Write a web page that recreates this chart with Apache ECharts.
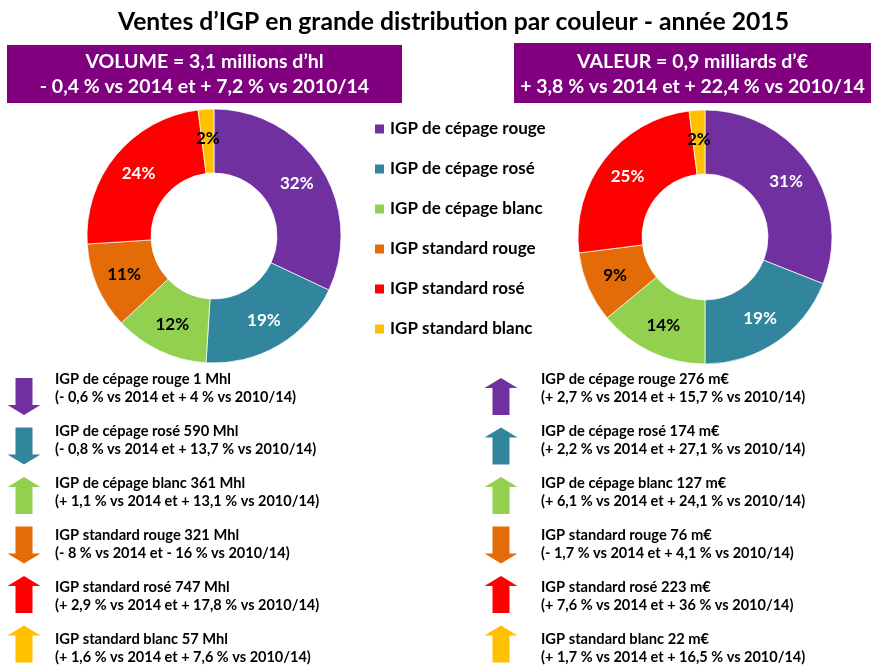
<!DOCTYPE html>
<html>
<head>
<meta charset="utf-8">
<script src="https://cdn.jsdelivr.net/npm/echarts@6/dist/echarts.min.js"></script>
<style>
html,body{margin:0;padding:0;background:#fff;}
#chart{width:871px;height:668px;}
</style>
</head>
<body>
<div id="chart"></div>
<script>
// ---- data ----
const title = 'Ventes d’IGP en grande distribution par couleur - année 2015';
const categories = ['IGP de cépage rouge', 'IGP de cépage rosé', 'IGP de cépage blanc', 'IGP standard rouge', 'IGP standard rosé', 'IGP standard blanc'];
const volumeShare = [32, 19, 12, 11, 24, 2];
const valueShare = [31, 19, 14, 9, 25, 2];
const volumeTotal = 'VOLUME = 3,1 millions d’hl';
const volumeTotalChange = [-0.4, 7.2];
const valueTotal = 'VALEUR = 0,9 milliards d’€';
const valueTotalChange = [3.8, 22.4];
const volumeAmounts = ['1 Mhl', '590 Mhl', '361 Mhl', '321 Mhl', '747 Mhl', '57 Mhl'];
const volumeVs2014 = [-0.6, -0.8, 1.1, -8, 2.9, 1.6];
const volumeVs2010 = [4, 13.7, 13.1, -16, 17.8, 7.6];
const valueAmounts = ['276 m€', '174 m€', '127 m€', '76 m€', '223 m€', '22 m€'];
const valueVs2014 = [2.7, 2.2, 6.1, -1.7, 7.6, 1.7];
const valueVs2010 = [15.7, 27.1, 24.1, 4.1, 36, 16.5];

// ---- styles ----
const COLORS = ['#7030A0', '#31859C', '#92D050', '#E36C09', '#FF0000', '#FFC000'];
const LABEL_COLORS = ['#ffffff', '#ffffff', '#000000', '#000000', '#ffffff', '#000000'];
const FONT = 'Lato, "Open Sans", sans-serif';
const HEADER_BG = '#800080';

function fmt(v) {
  return (v < 0 ? '- ' : '+ ') + String(Math.abs(v)).replace('.', ',');
}
function changeText(a, b) {
  return fmt(a) + ' % vs 2014 et ' + fmt(b) + ' % vs 2010/14';
}

const chart = echarts.init(document.getElementById('chart'), null, {renderer: 'canvas'});

function pieSeries(values, center) {
  return {
    type: 'pie',
    center: center,
    radius: [63, 127],
    startAngle: 90,
    clockwise: true,
    avoidLabelOverlap: false,
    animation: false,
    emphasis: {disabled: true},
    itemStyle: {borderColor: '#ffffff', borderWidth: 0.7},
    label: {
      show: true,
      position: 'inside',
      formatter: '{c}%',
      fontFamily: FONT,
      fontWeight: 'bold',
      fontSize: 17
    },
    labelLine: {show: false},
    data: categories.map((n, i) => ({
      name: n,
      value: values[i],
      itemStyle: {color: COLORS[i]},
      label: {color: LABEL_COLORS[i]}
    }))
  };
}

const graphic = [];
// headers
function header(x, y, w, h, line1, line2) {
  graphic.push({type: 'rect', shape: {x: x, y: y, width: w, height: h}, style: {fill: HEADER_BG}, silent: true});
  graphic.push({type: 'text', style: {x: x + w / 2, y: 62, text: line1, fill: '#fff', font: 'bold 19.5px ' + FONT, textAlign: 'center', textVerticalAlign: 'middle'}});
  graphic.push({type: 'text', style: {x: x + w / 2, y: 87, text: line2, fill: '#fff', font: 'bold 19.5px ' + FONT, textAlign: 'center', textVerticalAlign: 'middle'}});
}
header(7, 45, 395, 58, volumeTotal, changeText(volumeTotalChange[0], volumeTotalChange[1]));
header(514, 43, 357, 60, valueTotal, changeText(valueTotalChange[0], valueTotalChange[1]));

// bottom lists with arrows
function arrow(cx, top, up, color) {
  const H = 37, headH = 10, headW = 33, shaftW = 17;
  const l = cx - headW / 2, r = cx + headW / 2, sl = cx - shaftW / 2, sr = cx + shaftW / 2;
  let pts;
  if (up) {
    pts = [[cx, top], [r, top + headH], [sr, top + headH], [sr, top + H], [sl, top + H], [sl, top + headH], [l, top + headH]];
  } else {
    pts = [[sl, top], [sr, top], [sr, top + H - headH], [r, top + H - headH], [cx, top + H], [l, top + H - headH], [sl, top + H - headH]];
  }
  graphic.push({type: 'polygon', shape: {points: pts}, style: {fill: color}, silent: true});
}
function list(arrowX, textX, amounts, vs2014, vs2010) {
  categories.forEach((c, i) => {
    arrow(arrowX, 378 + i * 49.5, vs2014[i] >= 0, COLORS[i]);
    const y1 = 379 + i * 52;
    graphic.push({type: 'text', style: {x: textX, y: y1, text: c + ' ' + amounts[i], fill: '#000', font: 'bold 14.7px ' + FONT, textVerticalAlign: 'middle'}});
    graphic.push({type: 'text', style: {x: textX, y: y1 + 18, text: '(' + changeText(vs2014[i], vs2010[i]) + ')', fill: '#000', font: 'bold 14.5px ' + FONT, textVerticalAlign: 'middle'}});
  });
}
list(24, 55, volumeAmounts, volumeVs2014, volumeVs2010);
list(501, 541, valueAmounts, valueVs2014, valueVs2010);

chart.setOption({
  animation: false,
  title: {
    text: title,
    left: 113,
    top: 5,
    textStyle: {fontFamily: FONT, fontWeight: 'bold', fontSize: 24.7, color: '#000'}
  },
  legend: {
    orient: 'vertical',
    left: 373,
    top: 119,
    padding: 0,
    icon: 'rect',
    itemWidth: 11,
    itemHeight: 11,
    itemGap: 20,
    selectedMode: false,
    data: categories,
    textStyle: {fontFamily: FONT, fontWeight: 'bold', fontSize: 17, color: '#000', lineHeight: 20}
  },
  series: [
    pieSeries(volumeShare, [214, 236]),
    pieSeries(valueShare, [705, 237])
  ],
  graphic: graphic
});
</script>
</body>
</html>
